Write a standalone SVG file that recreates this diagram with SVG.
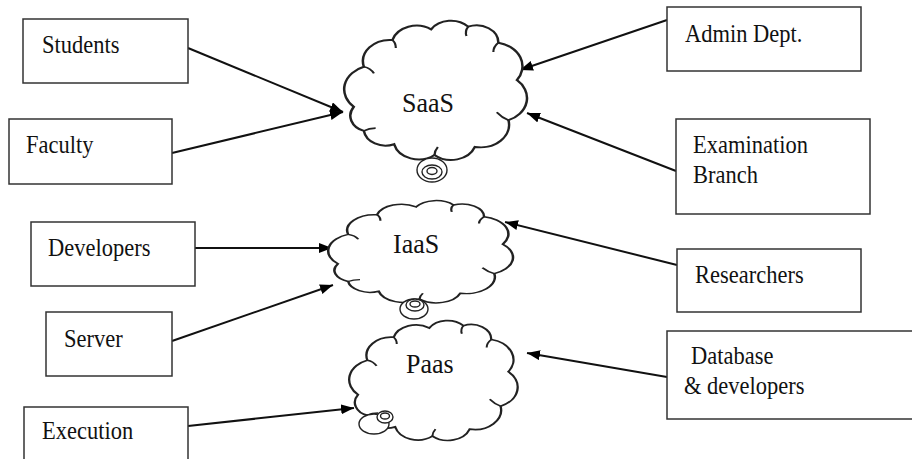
<svg xmlns="http://www.w3.org/2000/svg" width="912" height="459" viewBox="0 0 912 459">
<style>
.box{fill:#fff;stroke:#333;stroke-width:1.5}
.lbl{font-family:"Liberation Serif","Times New Roman",serif;font-size:22.5px;fill:#111}
.clbl{font-family:"Liberation Serif","Times New Roman",serif;font-size:26px;fill:#111}
.cloud{fill:#fff;stroke:#222;stroke-width:1.5;vector-effect:non-scaling-stroke}
.hook{fill:none;stroke:#222;stroke-width:1.3;vector-effect:non-scaling-stroke}
.bub{fill:#fff;stroke:#222;stroke-width:1.4}
.conn{stroke:#111;stroke-width:2;fill:none;marker-end:url(#arr)}
</style>
<defs>
<marker id="arr" markerUnits="userSpaceOnUse" markerWidth="14" markerHeight="12" refX="13" refY="5" orient="auto">
<path d="M0,0 L13,5 L0,10 Z" fill="#000"/>
</marker>
<path id="cloudShape" d="M2,62 A18,18 0 0 1 8,32 A16,16 0 0 1 25,12 A15,15 0 0 1 48,4 A14,14 0 0 1 70,2 A13,13 0 0 1 88,14 A18,18 0 0 1 99,42 A18,18 0 0 1 94,72 A17,17 0 0 1 74,92 A15,15 0 0 1 50,98 A15,15 0 0 1 26,90 A13,13 0 0 1 8,80 A12,12 0 0 1 2,62 Z"/>
<path id="cloudHooks" d="M8,32 q4,1 6,5 M25,12 q2,2 2,6 M70,2 q-2,3 -1,7 M88,14 q-3,3 -3,7 M94,72 q-4,-2 -7,-6 M50,98 q0,-3 2,-6 M8,80 q3,-2 7,-2"/>
</defs>

<g id="connectors">
<line class="conn" x1="188" y1="48" x2="343" y2="112"/>
<line class="conn" x1="172" y1="153" x2="343" y2="112"/>
<line class="conn" x1="667" y1="20" x2="520" y2="70"/>
<line class="conn" x1="676" y1="171" x2="527" y2="113"/>
<line class="conn" x1="195" y1="248" x2="332" y2="248"/>
<line class="conn" x1="172" y1="341" x2="333" y2="285"/>
<line class="conn" x1="677" y1="265" x2="505" y2="222"/>
<line class="conn" x1="667" y1="377" x2="527" y2="353"/>
<line class="conn" x1="188" y1="426" x2="354" y2="408"/>
</g>

<g id="saas">
<g transform="translate(350.4,24) scale(1.682,1.336)">
<use href="#cloudShape" class="cloud"/>
<use href="#cloudHooks" class="hook"/>
</g>
<ellipse class="bub" cx="432" cy="170" rx="15" ry="12"/>
<ellipse class="bub" cx="432" cy="172" rx="10" ry="7"/>
<ellipse class="bub" cx="432" cy="171" rx="5" ry="3.5"/>
<text class="clbl" transform="translate(402,112) scale(1,1.08)">SaaS</text>
</g>

<g id="iaas">
<g transform="translate(334.5,203) scale(1.70,0.981)">
<use href="#cloudShape" class="cloud"/>
<use href="#cloudHooks" class="hook"/>
</g>
<ellipse class="bub" cx="414" cy="309" rx="14" ry="10"/>
<ellipse class="bub" cx="415" cy="305" rx="9" ry="6"/>
<ellipse class="bub" cx="415" cy="304" rx="5" ry="3"/>
<text class="clbl" transform="translate(393,253) scale(1,1.08)">IaaS</text>
</g>

<g id="paas">
<g transform="translate(354.9,323.4) scale(1.55,1.15)">
<use href="#cloudShape" class="cloud"/>
<use href="#cloudHooks" class="hook"/>
</g>
<ellipse class="bub" cx="374" cy="424" rx="15" ry="10"/>
<ellipse class="bub" cx="385" cy="417" rx="8" ry="6"/>
<ellipse class="bub" cx="385" cy="416" rx="4.5" ry="3"/>
<text class="clbl" transform="translate(406,373) scale(1,1.08)">Paas</text>
</g>

<g id="students">
<rect class="box" x="23" y="19" width="165" height="64"/>
<text class="lbl" transform="translate(42,53) scale(1,1.12)">Students</text>
</g>
<g id="faculty">
<rect class="box" x="9" y="119" width="163" height="65"/>
<text class="lbl" transform="translate(26,153) scale(1,1.12)">Faculty</text>
</g>
<g id="developers">
<rect class="box" x="31" y="222" width="164" height="64"/>
<text class="lbl" transform="translate(48,256) scale(1,1.12)">Developers</text>
</g>
<g id="server">
<rect class="box" x="46" y="312" width="126" height="64"/>
<text class="lbl" transform="translate(64,347) scale(1,1.12)">Server</text>
</g>
<g id="execution">
<rect class="box" x="24" y="407" width="164" height="70"/>
<text class="lbl" transform="translate(42,439) scale(1,1.12)">Execution</text>
</g>
<g id="admin">
<rect class="box" x="667" y="7" width="194" height="64"/>
<text class="lbl" transform="translate(685,42) scale(1,1.12)">Admin Dept.</text>
</g>
<g id="examination">
<rect class="box" x="676" y="119" width="194" height="95"/>
<text class="lbl" transform="translate(693,153) scale(1,1.12)">Examination</text>
<text class="lbl" transform="translate(693,183) scale(1,1.12)">Branch</text>
</g>
<g id="researchers">
<rect class="box" x="677" y="249" width="184" height="63"/>
<text class="lbl" transform="translate(695,283) scale(1,1.12)">Researchers</text>
</g>
<g id="database">
<rect class="box" x="667" y="331" width="270" height="88"/>
<text class="lbl" transform="translate(691,364) scale(1,1.12)">Database</text>
<text class="lbl" transform="translate(684,394) scale(1,1.12)">&amp; developers</text>
</g>
</svg>
